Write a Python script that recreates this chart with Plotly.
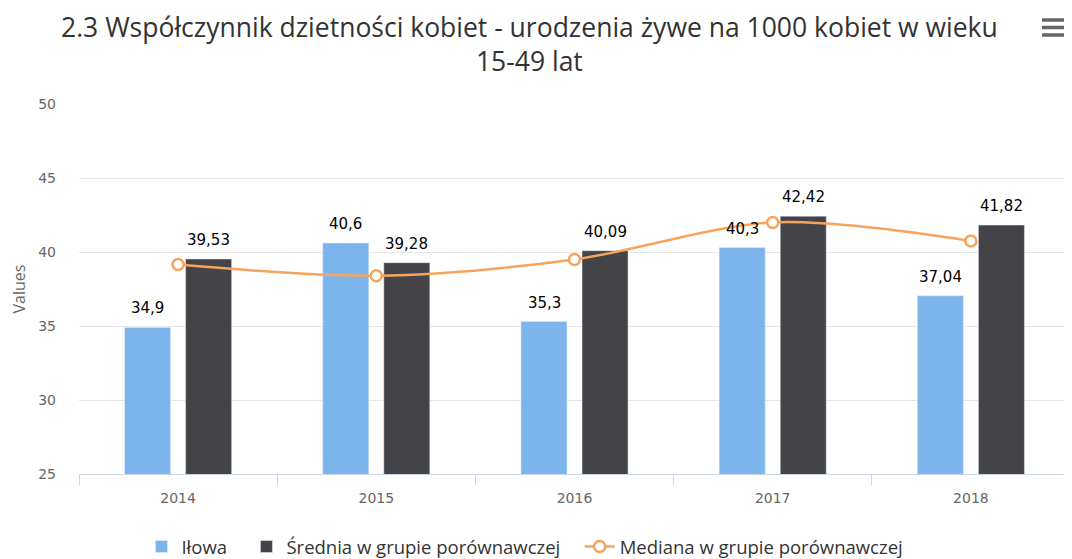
import plotly.graph_objects as go

years = ["2014", "2015", "2016", "2017", "2018"]
ilowa = [34.9, 40.6, 35.3, 40.3, 37.04]
srednia = [39.53, 39.28, 40.09, 42.42, 41.82]
mediana = [39.15, 38.4, 39.5, 42.0, 40.75]

title = ("2.3 Współczynnik dzietności kobiet - urodzenia żywe na 1000 kobiet w wieku"
         "<br>15-49 lat")


def fmt(v):
    return ("%g" % v).replace(".", ",")


pad = "\u00a0" * 3  # a bit more room between legend entries

fig = go.Figure()

fig.add_trace(go.Bar(x=years, y=ilowa, name="Iłowa" + pad, marker_color="#7cb5ec"))
fig.add_trace(go.Bar(x=years, y=srednia, name="Średnia w grupie porównawczej" + pad,
                     marker_color="#434348"))
fig.add_trace(go.Scatter(x=years, y=mediana, name="Mediana w grupie porównawczej",
                         mode="lines+markers",
                         line=dict(color="#f7a35c", width=2.5, shape="spline", smoothing=0.9),
                         marker=dict(size=11, color="#ffffff",
                                     line=dict(color="#f7a35c", width=2.5))))

# data labels above the bars (shifted to each bar of the group)
label_font = dict(family="DejaVu Sans", size=15, color="#000000")
for series, shift in [(ilowa, -30.5), (srednia, 30.5)]:
    for i, v in enumerate(series):
        fig.add_annotation(x=i, y=v, text=fmt(v), showarrow=False,
                           xshift=shift, yshift=19, yanchor="middle",
                           font=label_font)

# title
fig.add_annotation(xref="paper", yref="paper", x=0.455, y=1.163, text=title,
                   showarrow=False, xanchor="center", yanchor="middle",
                   font=dict(family="Open Sans", size=26.5, color="#333333"))

# page body adds an 8px offset, so the figure is 8px smaller than the window
fig.update_layout(
    width=1064, height=551,
    paper_bgcolor="#ffffff", plot_bgcolor="#ffffff",
    margin=dict(l=71, r=2, t=96, b=85, autoexpand=False),
    barmode="group", bargap=0.384, bargroupgap=0.246,
    font=dict(family="DejaVu Sans", color="#666666"),
    showlegend=True,
    legend=dict(orientation="h", x=0.063, xanchor="left", y=-0.146, yanchor="top",
                font=dict(family="Open Sans", size=18.5, color="#333333"),
                traceorder="normal"),
    xaxis=dict(type="category", showline=True, linecolor="#ccd6eb", linewidth=1,
               ticks="outside", tickson="boundaries", ticklen=10, tickcolor="#ccd6eb",
               ticklabelstandoff=11, automargin=False,
               showgrid=False, tickfont=dict(family="DejaVu Sans", size=14, color="#666666")),
    yaxis=dict(range=[25, 50], dtick=5, showgrid=True, gridcolor="#e6e6e6",
               zeroline=False, ticks="", ticklabelstandoff=22, automargin=False,
               tickfont=dict(family="DejaVu Sans", size=14, color="#666666"),
               title=dict(text="Values", standoff=8,
                          font=dict(family="Open Sans", size=16, color="#666666"))),
)

# menu icon in the top right corner
for yy in [1.2270, 1.2068, 1.1865]:
    fig.add_shape(type="line", xref="paper", yref="paper",
                  x0=0.9718, x1=0.9950, y0=yy, y1=yy,
                  line=dict(color="#666666", width=3.5))

fig.write_html("out.html")
